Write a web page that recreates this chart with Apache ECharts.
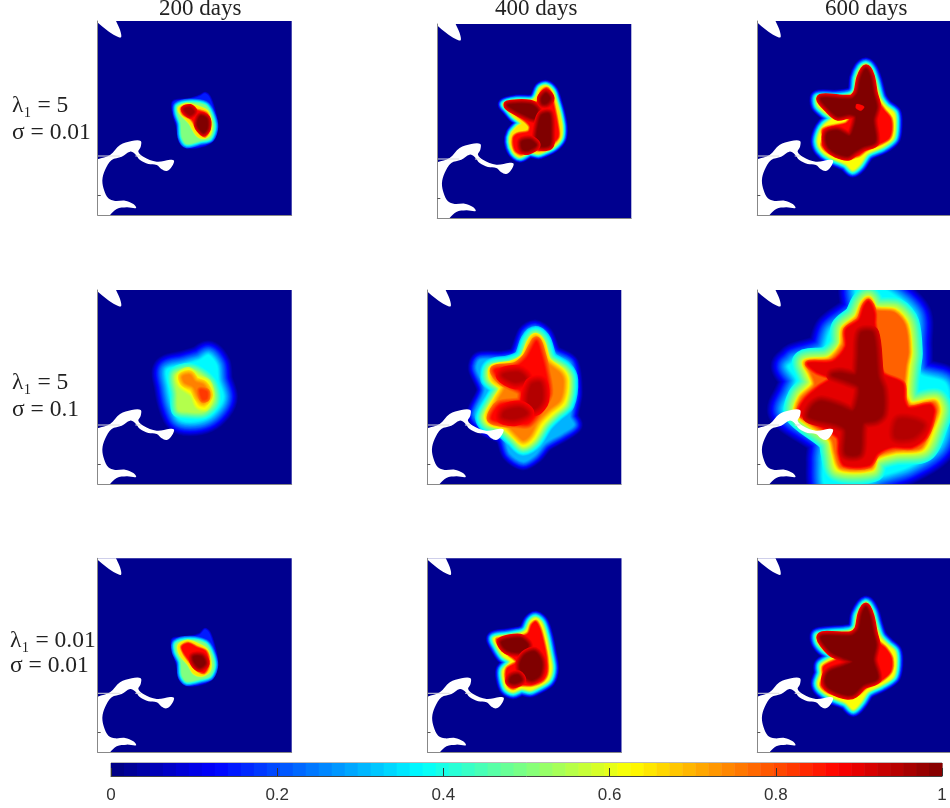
<!DOCTYPE html>
<html><head><meta charset="utf-8">
<script src="https://cdn.jsdelivr.net/npm/echarts@6/dist/echarts.min.js"></script>
<style>html,body{margin:0;padding:0;background:#fff}#c{width:950px;height:808px}</style>
</head><body><div id="c"></div>
<script>
// Each contour: [level outside, level on the traced line, outline points]
// Coordinates are in a 0..582 square per panel, y running downward.
const titles = ['200 days', '400 days', '600 days'];
const rowLabels = [['λ₁ = 5', 'σ = 0.01'], ['λ₁ = 5', 'σ = 0.1'], ['λ₁ = 0.01', 'σ = 0.01']];
const colorbarTicks = [0, 0.2, 0.4, 0.6, 0.8, 1];

const islandNorth = [[-10,-10],[52,-10],[55,0],[67,27],[70,49],[55,45],[27,27],[-10,-5]];
const coastSouth = [[-10,418],[0,415],[37,402],[67,372],[102,360],[129,360],[129,377],[122,392],[137,407],[177,422],[217,416],[229,419],[222,437],[207,450],[192,445],[177,432],[152,429],[127,417],[112,399],[97,392],[72,407],[42,417],[22,447],[14,477],[19,507],[32,532],[52,540],[82,539],[107,549],[115,561],[87,559],[57,564],[37,582],[30,592],[-10,592]];

const p200a = [
 [0,.15,[[227,242],[277,235],[307,225],[322,217],[335,228],[349,267],[357,307],[349,352],[322,372],[267,379],[247,362],[239,317],[227,277]]],
 [.15,.5,[[239,255],[277,245],[322,252],[339,277],[349,317],[337,352],[307,360],[267,369],[252,347],[249,307],[239,277]]],
 [.5,.65,[[243,260],[267,248],[297,255],[329,270],[341,307],[337,340],[317,352],[296,342],[275,307],[247,277]]],
 [.65,.87,[[252,262],[272,255],[295,267],[327,279],[335,317],[322,345],[305,332],[282,295],[257,279]]],
 [.87,1,[[307,285],[327,292],[329,322],[317,335],[299,312]]],
 [.87,.97,[[260,265],[277,260],[289,272],[277,282]]]
];
const p400a = [
 [0,.65,[[200,240],[238,230],[283,230],[296,220],[308,193],[326,186],[346,203],[356,233],[366,268],[373,308],[370,343],[348,368],[318,383],[303,388],[278,383],[248,398],[228,383],[218,353],[223,328],[240,308],[253,298],[228,276],[213,258]]],
 [.65,.87,[[210,243],[278,238],[303,233],[313,203],[328,193],[340,208],[350,248],[360,298],[363,338],[340,363],[308,378],[278,373],[253,390],[233,378],[228,343],[240,330],[273,323],[278,308],[266,293],[233,268]]],
 [.87,1,[[213,243],[278,241],[300,258],[290,283],[263,273],[233,258]]],
 [.87,1,[[313,223],[326,208],[338,223],[328,238],[316,238]]],
 [.87,1,[[313,273],[336,270],[340,328],[336,363],[308,366],[298,343],[303,303]]],
 [.87,1,[[253,353],[278,348],[296,363],[273,378],[256,376]]]
];
const p600a = [
 [0,.62,[[183,229],[238,229],[283,222],[296,207],[300,172],[313,142],[328,132],[343,147],[356,182],[370,232],[388,257],[413,277],[416,312],[410,352],[378,377],[333,397],[308,432],[288,447],[268,429],[218,407],[193,387],[183,362],[190,332],[203,312],[226,292],[203,272],[183,252]]],
 [.62,.87,[[188,232],[278,229],[300,212],[308,172],[328,139],[343,162],[353,207],[366,242],[383,267],[403,292],[406,327],[398,352],[373,367],[328,387],[308,402],[293,407],[278,412],[248,407],[213,392],[196,372],[200,352],[198,327],[223,317],[268,307],[278,292],[238,277]]],
 [.87,1,[[193,232],[283,235],[303,217],[313,172],[328,144],[341,167],[350,217],[360,257],[350,297],[356,362],[318,377],[293,392],[273,405],[240,397],[216,379],[208,357],[213,335],[243,329],[278,345],[290,327],[298,287],[278,279],[243,285],[218,265]]],
 [.87,.87,[[300,249],[323,257],[313,269],[298,262]]]
];
const p200b = [
 [0,.37,[[207,240],[257,225],[307,210],[332,195],[357,225],[362,270],[377,320],[362,355],[327,385],[277,395],[242,385],[222,340],[212,290]]],
 [.37,.55,[[232,255],[277,240],[317,260],[342,290],[347,335],[317,365],[267,365],[242,360],[239,310]]],
 [.55,.65,[[245,260],[272,245],[297,265],[327,280],[337,320],[322,350],[302,345],[287,310],[252,285]]],
 [.65,.75,[[255,260],[277,255],[292,275],[317,285],[332,315],[317,335],[302,320],[287,290],[262,278]]],
 [.75,.82,[[307,300],[327,305],[327,325],[315,328]]]
];
const p400b = [
 [0,.3,[[158,210],[223,208],[268,195],[296,130],[323,115],[353,135],[378,190],[428,220],[440,310],[428,380],[440,405],[405,430],[353,460],[323,495],[288,515],[248,490],[228,440],[178,415],[143,375],[173,300],[148,235]]],
 [.3,.62,[[193,235],[248,225],[288,205],[308,155],[325,138],[343,155],[363,210],[408,240],[423,270],[413,340],[382,368],[350,400],[318,450],[288,468],[263,445],[228,415],[183,400],[173,380],[203,325],[218,295],[188,265]]],
 [.62,.75,[[200,238],[253,228],[293,205],[313,160],[325,145],[340,165],[356,215],[398,250],[408,275],[398,330],[363,360],[330,395],[308,435],[288,450],[270,435],[238,405],[193,392],[188,375],[213,330],[233,290],[203,265]]],
 [.75,.87,[[203,240],[263,232],[298,205],[318,170],[328,155],[340,190],[353,240],[363,310],[338,355],[303,400],[273,400],[223,395],[193,385],[218,345],[278,335],[283,305],[248,285],[223,270]]],
 [.87,.95,[[228,255],[273,248],[293,265],[263,275]]],
 [.87,.95,[[313,285],[338,280],[343,330],[323,355],[303,340]]],
 [.87,.95,[[233,365],[278,355],[298,370],[263,385],[228,380]]]
];
const p600b = [
 [0,.37,[[103,220],[113,210],[198,180],[223,120],[298,60],[300,-10],[368,-10],[473,70],[478,170],[488,250],[568,280],[578,370],[548,470],[458,530],[368,560],[328,580],[208,590],[198,510],[198,450],[83,365],[103,310],[118,270],[93,230]]],
 [.37,.62,[[143,215],[213,205],[253,165],[258,115],[298,80],[318,40],[336,25],[358,55],[418,60],[453,100],[463,190],[458,230],[453,310],[468,340],[538,330],[553,360],[538,410],[503,480],[418,490],[358,510],[348,540],[243,540],[228,490],[218,450],[118,370],[128,320],[163,280],[153,250]]],
 [.62,.78,[[148,218],[218,210],[258,165],[263,118],[303,85],[320,45],[336,30],[356,60],[413,67],[446,105],[456,185],[448,230],[443,315],[463,348],[533,338],[543,362],[523,415],[493,473],[418,480],[358,500],[343,532],[253,532],[236,490],[223,445],[123,370],[133,325],[173,285],[163,250]]],
 [.78,.9,[[153,220],[228,215],[268,170],[268,120],[308,90],[323,50],[336,35],[353,70],[353,100],[363,180],[378,250],[438,280],[443,330],[458,355],[523,345],[533,365],[508,440],[468,470],[408,470],[363,490],[338,525],[263,525],[248,490],[243,440],[128,370],[143,330],[188,290],[223,265],[178,245]]],
 [.9,.98,[[313,130],[348,130],[363,260],[378,300],[378,370],[358,390],[318,400],[308,490],[268,490],[268,420],[238,400],[158,380],[168,350],[193,335],[248,350],[288,365],[303,340],[308,290],[268,270],[228,255],[248,250],[298,255],[306,210]]],
 [.9,.95,[[428,390],[498,405],[468,440],[418,440]]]
];
const p200c = [
 [0,.15,[[225,243],[277,237],[307,228],[322,213],[335,224],[349,265],[357,305],[349,350],[322,373],[267,380],[247,363],[239,320],[225,275]]],
 [.15,.5,[[235,255],[277,245],[322,255],[339,280],[349,320],[337,353],[307,363],[267,370],[252,350],[249,310],[235,280]]],
 [.5,.65,[[242,260],[267,247],[297,255],[327,273],[339,310],[335,340],[312,353],[287,345],[272,320],[247,290]]],
 [.65,.87,[[252,265],[272,255],[297,267],[325,280],[332,320],[319,343],[297,333],[277,310],[259,285]]],
 [.87,1,[[287,295],[312,295],[322,315],[307,327],[292,315]]]
];
const p400c = [
 [0,.62,[[199,240],[239,233],[282,225],[297,215],[309,190],[325,180],[342,195],[355,235],[365,285],[372,330],[362,365],[327,387],[307,395],[282,390],[257,400],[237,390],[227,360],[227,335],[249,310],[227,293],[209,265]]],
 [.62,.87,[[209,243],[277,235],[302,225],[312,200],[325,190],[337,210],[347,245],[357,295],[359,340],[347,365],[312,380],[277,380],[257,390],[242,380],[235,355],[239,330],[267,310],[242,287],[217,260]]],
 [.87,1,[[222,250],[277,240],[302,260],[287,280],[252,280],[232,270]]],
 [.87,1,[[292,290],[322,280],[342,310],[337,350],[312,365],[287,350],[277,320]]],
 [.87,1,[[252,355],[272,350],[282,365],[262,375],[247,370]]]
];
const p600c = [
 [0,.62,[[183,230],[278,220],[296,207],[303,170],[328,135],[346,160],[356,195],[370,235],[393,260],[415,280],[418,320],[410,355],[373,380],[333,400],[313,430],[290,453],[268,433],[223,415],[193,395],[183,375],[193,345],[193,320],[228,295],[198,270],[183,250]]],
 [.62,.87,[[190,233],[278,230],[303,210],[313,170],[328,142],[343,170],[353,215],[366,250],[388,270],[406,300],[403,340],[373,367],[328,387],[308,405],[278,415],[248,410],[213,400],[193,380],[200,355],[200,325],[238,305],[258,297],[218,280]]],
 [.87,1,[[193,235],[283,233],[306,215],[316,170],[328,147],[340,175],[350,225],[358,260],[350,305],[363,360],[318,380],[293,405],[273,410],[238,400],[213,385],[206,365],[218,340],[258,325],[288,310],[258,297],[223,280]]]
];

// layout and styling, kept apart from the values
const panels = [
 {c:p200a,left:97.7,top:21,outer:13,inner:10,core:4},{c:p400a,left:437.3,top:24,outer:13,inner:10,core:5},{c:p600a,left:757.3,top:21,outer:13,inner:10,core:5},
 {c:p200b,left:97.7,top:290,outer:42,inner:50,core:5},{c:p400b,left:427.3,top:290,outer:32,inner:45,core:8},{c:p600b,left:757.3,top:290,outer:50,inner:28,core:7},
 {c:p200c,left:97.7,top:558.3,outer:13,inner:10,core:5},{c:p400c,left:427.5,top:558.3,outer:13,inner:10,core:5},{c:p600c,left:757.3,top:558.3,outer:13,inner:10,core:5}
];
const SIZE = 194, EXT = 582;
const cl = v => Math.max(0, Math.min(1, v));
function jet(t){
  const r = cl(1.5 - Math.abs(4*t - 3)), g = cl(1.5 - Math.abs(4*t - 2)), b = cl(1.5 - Math.abs(4*t - 1));
  return 'rgb(' + Math.round(r*255) + ',' + Math.round(g*255) + ',' + Math.round(b*255) + ')';
}
const grids = [], xAxes = [], yAxes = [], series = [];
panels.forEach((p, i) => {
  grids.push({left:p.left, top:p.top, width:SIZE, height:SIZE, show:true, backgroundColor:jet(0.015), borderWidth:0});
  xAxes.push({gridIndex:i, type:'value', min:0, max:EXT, position:'bottom', z:10,
    axisLine:{show:true, onZero:false, lineStyle:{color:'#888', width:1}}, axisTick:{show:false}, axisLabel:{show:false}, splitLine:{show:false}});
  yAxes.push({gridIndex:i, type:'value', min:0, max:EXT, inverse:true, position:'left', z:10,
    axisLine:{show:true, onZero:false, lineStyle:{color:'#888', width:1}},
    axisTick:{show:true, inside:true, length:3, customValues:[522], lineStyle:{color:'#555'}}, axisLabel:{show:false}, splitLine:{show:false}});
  series.push({type:'custom', xAxisIndex:i, yAxisIndex:i, coordinateSystem:'cartesian2d', clip:true, silent:true, z:3,
    data:p.c.map(c => [c[0], c[1]]), encode:{x:0, y:1},
    renderItem(params, api){
      const c = p.c[params.dataIndex], from = c[0], to = c[1];
      const pts = c[2].map(q => api.coord(q));
      const w = to === from ? 0 : from >= 0.85 ? p.core : (to - from) * (to <= 0.62 ? p.outer : p.inner);
      const n = Math.max(1, Math.ceil(w * 1.5));
      const kids = [];
      for (let k = n - 1; k >= 0; k--) {
        const t = (k + (w > 0 ? 0.5 : 0)) / n;
        const col = jet(from + (to - from) * (1 - (k / n)));
        kids.push({type:'polygon', shape:{points:pts, smooth:0.3}, silent:true,
          style:{fill:col, stroke:col, lineWidth:k === 0 ? 0.2 : 2 * w * t, lineJoin:'round'}});
      }
      return {type:'group', children:kids};
    }});
  series.push({type:'custom', xAxisIndex:i, yAxisIndex:i, coordinateSystem:'cartesian2d', clip:true, silent:true, z:5,
    data:[[0, 0]], encode:{x:0, y:1},
    renderItem(params, api){
      const poly = s => ({type:'polygon', shape:{points:s.map(q => api.coord(q)), smooth:0.35}, style:{fill:'#fff'}});
      const seg = (a, b) => ({type:'line', shape:{x1:api.coord([a,405])[0], y1:api.coord([a,405])[1], x2:api.coord([b,405])[0], y2:api.coord([b,405])[1]}, style:{stroke:'#ddd', lineWidth:1}});
      return {type:'group', children:[poly(islandNorth), poly(coastSouth), seg(0, 66), seg(113, 130)]};
    }});
});
// colorbar, 64 flat steps
const cbIndex = grids.length;
grids.push({left:111, top:763, width:831, height:13, show:true, borderColor:'#777', borderWidth:1});
xAxes.push({gridIndex:cbIndex, type:'value', min:0, max:1, interval:0.2, position:'bottom', z:10,
  axisLine:{show:true, lineStyle:{color:'#444'}}, axisTick:{show:true, inside:true, length:8, lineStyle:{color:'#333'}},
  axisLabel:{show:true, margin:11, fontFamily:'Liberation Sans', fontSize:17, color:'#333',
    formatter:v => colorbarTicks.includes(+v.toFixed(1)) ? String(+v.toFixed(1)) : ''},
  splitLine:{show:false}});
yAxes.push({gridIndex:cbIndex, type:'value', min:0, max:1, axisLine:{show:false}, axisTick:{show:false}, axisLabel:{show:false}, splitLine:{show:false}});
const steps = Array.from({length:64}, (_, i) => [i, 0]);
series.push({type:'custom', xAxisIndex:cbIndex, yAxisIndex:cbIndex, coordinateSystem:'cartesian2d', silent:true, z:3,
  data:steps, encode:{x:0},
  renderItem(params, api){
    const i = params.dataIndex;
    const a = api.coord([i/64, 1]), b = api.coord([(i+1)/64, 0]);
    return {type:'rect', shape:{x:a[0], y:a[1], width:b[0]-a[0]+0.5, height:b[1]-a[1]}, style:{fill:jet((i+0.5)/64)}};
  }});
// texts
const serif = 'Liberation Serif';
const texts = [];
[159, 495, 825].forEach((x, i) => texts.push({type:'text', left:x, top:-3, style:{text:titles[i], fill:'#222', font:'23px "'+serif+'"'}}));
[[12,94,121],[12,371,398],[10,629,654]].forEach((q, i) => {
  texts.push({type:'text', left:q[0], top:q[1], style:{text:rowLabels[i][0], fill:'#222', font:'23.5px "'+serif+'"'}});
  texts.push({type:'text', left:q[0], top:q[2], style:{text:rowLabels[i][1], fill:'#222', font:'23.5px "'+serif+'"'}});
});
const chart = echarts.init(document.getElementById('c'), null, {renderer:'canvas', width:950, height:808});
chart.setOption({animation:false, backgroundColor:'#fff', grid:grids, xAxis:xAxes, yAxis:yAxes, series:series, graphic:texts});
</script></body></html>
